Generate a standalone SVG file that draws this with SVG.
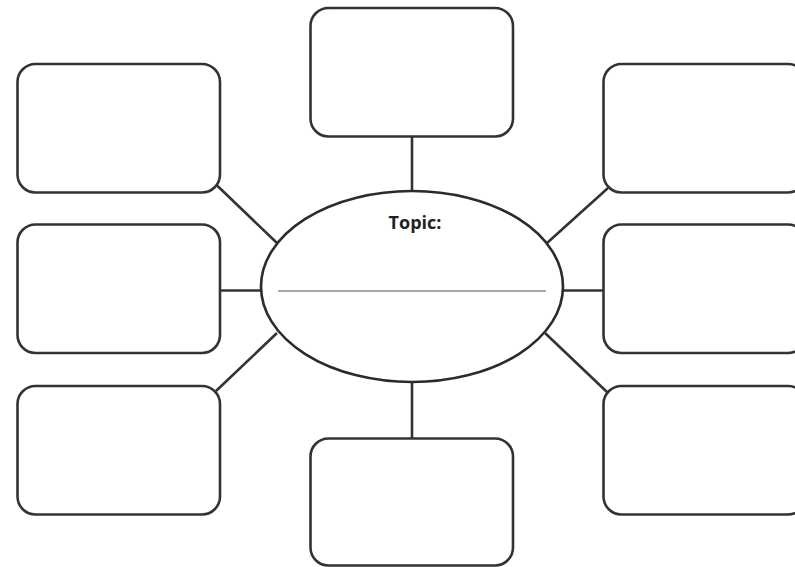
<svg xmlns="http://www.w3.org/2000/svg" width="795" height="567" viewBox="0 0 795 567">
<style>
.box{fill:#fff;stroke:#333;stroke-width:2.6}
.conn line{stroke:#333;stroke-width:2.6}
.ell{fill:#fff;stroke:#2b2b2b;stroke-width:2.6}
.title{font-family:"Open Sans","Liberation Sans",sans-serif;font-weight:bold;font-size:18px;fill:#22212a}
</style>
<rect width="795" height="567" fill="#fff"/>
<g id="connectors" class="conn">
<line x1="412" y1="136" x2="412" y2="192"/>
<line x1="412" y1="381" x2="412" y2="439"/>
<line x1="216.5" y1="185" x2="277" y2="243"/>
<line x1="219" y1="290.5" x2="262" y2="290.5"/>
<line x1="277" y1="333" x2="216" y2="391"/>
<line x1="547" y1="243" x2="608" y2="188"/>
<line x1="562" y1="290.5" x2="605" y2="290.5"/>
<line x1="545" y1="333" x2="607" y2="392"/>
</g>
<g id="box-top"><rect class="box" x="310.5" y="8" width="202.5" height="128.5" rx="18"/></g>
<g id="box-bottom"><rect class="box" x="310.5" y="438.5" width="202.5" height="127" rx="18"/></g>
<g id="box-left-top"><rect class="box" x="17.5" y="64" width="202.5" height="128.5" rx="18"/></g>
<g id="box-left-mid"><rect class="box" x="17.5" y="224.5" width="202.5" height="128.5" rx="18"/></g>
<g id="box-left-bottom"><rect class="box" x="17.5" y="386" width="202.5" height="128.5" rx="18"/></g>
<g id="box-right-top"><rect class="box" x="603.5" y="64" width="202.5" height="128.5" rx="18"/></g>
<g id="box-right-mid"><rect class="box" x="603.5" y="224.5" width="202.5" height="128.5" rx="18"/></g>
<g id="box-right-bottom"><rect class="box" x="603.5" y="386" width="202.5" height="128.5" rx="18"/></g>
<g id="topic">
<ellipse class="ell" cx="412" cy="286.5" rx="151" ry="95.5"/>
<text class="title" x="415" y="228.5" text-anchor="middle">Topic:</text>
<line x1="278" y1="291" x2="546" y2="291" stroke="#8a8a8a" stroke-width="1.6"/>
</g>
</svg>
